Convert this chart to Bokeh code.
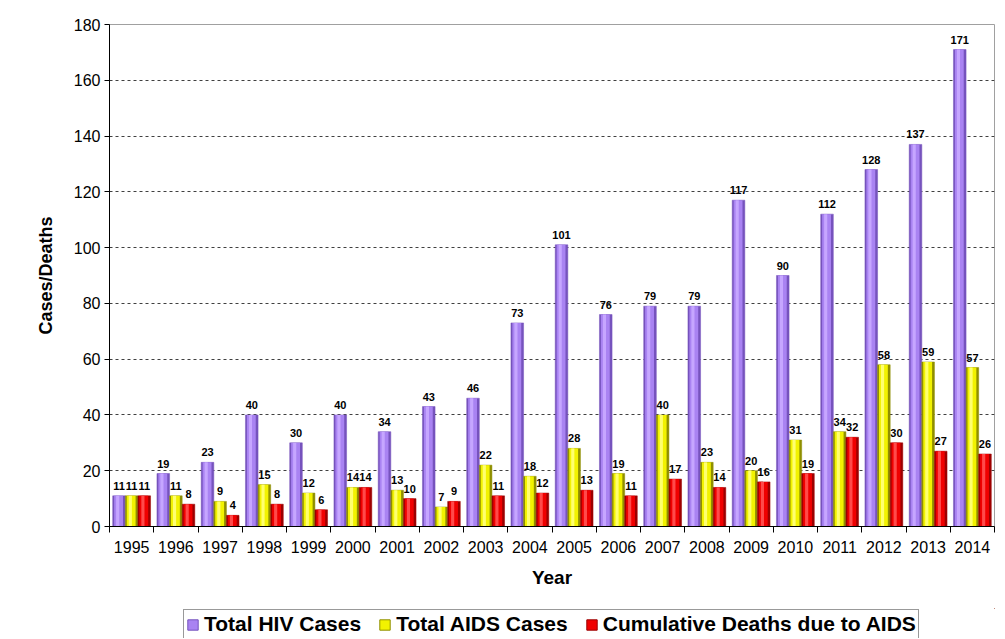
from bokeh.plotting import figure
from bokeh.models import FixedTicker, Legend, LegendItem, ColumnDataSource
from bokeh.layouts import column
from bokeh.core.properties import value
from bokeh.embed import file_html
from bokeh.resources import INLINE

years = ["1995", "1996", "1997", "1998", "1999", "2000", "2001", "2002", "2003", "2004",
         "2005", "2006", "2007", "2008", "2009", "2010", "2011", "2012", "2013", "2014"]
hiv = [11, 19, 23, 40, 30, 40, 34, 43, 46, 73, 101, 76, 79, 79, 117, 90, 112, 128, 137, 171]
aids = [11, 11, 9, 15, 12, 14, 13, 7, 22, 18, 28, 19, 40, 23, 20, 31, 34, 58, 59, 57]
deaths = [11, 8, 4, 8, 6, 14, 10, 9, 11, 12, 13, 11, 17, 14, 16, 19, 32, 30, 27, 26]
series_names = ["Total HIV Cases", "Total AIDS Cases", "Cumulative Deaths due to AIDS"]
y_ticks = [0, 20, 40, 60, 80, 100, 120, 140, 160, 180]

FONT = "Liberation Sans"
n = len(years)
idx = list(range(n))

p = figure(width=1003, height=608, output_backend="svg", toolbar_location=None,
           x_range=(-0.5, n - 0.5), y_range=(0, 180),
           min_border_left=109, min_border_right=9, min_border_top=24, min_border_bottom=82)
p.background_fill_color = "white"
p.border_fill_color = "white"
p.outline_line_color = "#a0a0a0"

# (edge colour, body colour, highlight colour) per series
shades = [("#7653bd", "#a983f2", "#c6a6ff"),
          ("#8f8f00", "#f2f200", "#ffff70"),
          ("#9c0000", "#f00000", "#ff4a4a")]
offsets = [-0.285, 0.0, 0.285]
bw = 0.285
renderers = []
for vals, off, (edge, body, hi) in zip([hiv, aids, deaths], offsets, shades):
    src = ColumnDataSource(dict(x=[i + off for i in idx], top=vals,
                                lab=[str(v) for v in vals]))
    src_body = ColumnDataSource(dict(x=[i + off - 0.01 for i in idx], top=vals))
    src_hi = ColumnDataSource(dict(x=[i + off - 0.03 for i in idx], top=vals))
    r = p.vbar(x="x", top="top", width=bw, bottom=0, source=src,
               fill_color=edge, line_color=edge, line_width=0.5)
    p.vbar(x="x", top="top", width=bw * 0.7, bottom=0, source=src_body,
           fill_color=body, line_color=None)
    p.vbar(x="x", top="top", width=bw * 0.25, bottom=0, source=src_hi,
           fill_color=hi, line_color=None)
    renderers.append(r)
    p.text(x="x", y="top", text="lab", source=src, text_align="center",
           text_baseline="bottom", y_offset=-6, text_font=value(FONT),
           text_font_size="11px", text_font_style="bold", text_color="black")

# axes
p.xaxis.ticker = FixedTicker(ticks=idx, minor_ticks=[i - 0.5 for i in range(n + 1)])
p.xaxis.major_label_overrides = {i: y for i, y in enumerate(years)}
p.xaxis.major_tick_line_color = None
p.xaxis.major_tick_out = 5
p.xaxis.major_tick_in = 0
p.xaxis.minor_tick_line_color = "black"
p.xaxis.minor_tick_out = 6
p.xaxis.minor_tick_in = 0
p.xaxis.major_label_standoff = 8
p.xaxis.axis_label = "Year"
p.xaxis.axis_label_standoff = 11
p.xaxis.axis_line_color = "black"

p.yaxis.ticker = FixedTicker(ticks=y_ticks, minor_ticks=[])
p.yaxis.major_tick_out = 5
p.yaxis.major_tick_in = 0
p.yaxis.major_label_standoff = 4
p.yaxis.axis_label = "Cases/Deaths"
p.yaxis.axis_label_standoff = 15
p.yaxis.axis_line_color = "black"

for ax in (p.xaxis[0], p.yaxis[0]):
    ax.major_label_text_font = FONT
    ax.major_label_text_font_size = "16px"
    ax.major_label_text_color = "black"
    ax.axis_label_text_font = FONT
    ax.axis_label_text_font_size = "19px"
    ax.axis_label_text_font_style = "bold"
    ax.axis_label_text_color = "black"
p.yaxis.axis_label_text_font_size = "18px"

p.xgrid.grid_line_color = None
p.ygrid.grid_line_color = "#404040"
p.ygrid.grid_line_dash = "3 3"
p.ygrid.grid_line_width = 1

# legend strip below the chart (its frame is aligned with the chart's frame)
lp = figure(width=1003, height=30, output_backend="svg", toolbar_location=None,
            x_axis_type=None, y_axis_type=None, x_range=(0, 1), y_range=(0, 1),
            min_border_left=0, min_border_right=0, min_border_top=0, min_border_bottom=0)
lp.outline_line_color = None
lp.grid.visible = False
proxies = []
for (edge, body, hi) in shades:
    # swatch proxies placed outside the visible range of the strip
    proxies.append(lp.vbar(x=[5], top=[5], bottom=[4], width=0.1,
                           fill_color=body, line_color=edge))

legend = Legend(items=[LegendItem(label=nm, renderers=[r]) for nm, r in zip(series_names, proxies)],
                orientation="horizontal", location=(74, -1))
legend.label_text_font = FONT
legend.label_text_font_size = "21px"
legend.label_text_font_style = "bold"
legend.label_text_color = "black"
legend.glyph_width = 13
legend.glyph_height = 13
legend.label_standoff = 5
legend.spacing = 17
legend.padding = 2
legend.margin = 0
legend.border_line_color = "#333333"
legend.border_line_width = 1
legend.background_fill_color = "white"
legend.background_fill_alpha = 1
lp.add_layout(legend, "center")

layout = column(p, lp, spacing=0)
open("out.html", "w").write(file_html(layout, INLINE))
